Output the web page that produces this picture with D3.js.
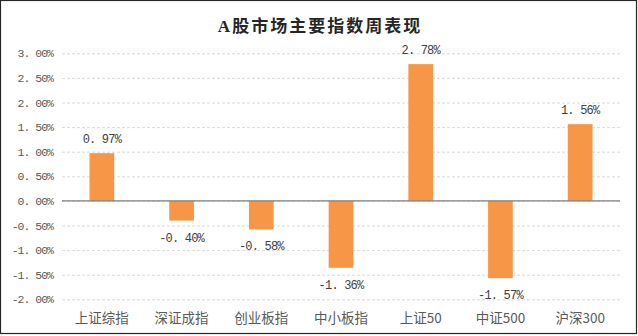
<!DOCTYPE html>
<html><head><meta charset="utf-8">
<script src="https://cdn.jsdelivr.net/npm/d3@7"></script>
<style>body{margin:0;background:#fff}svg{display:block}</style>
</head><body>
<script>
const title = "A股市场主要指数周表现";
const categories = ["上证综指","深证成指","创业板指","中小板指","上证50","中证500","沪深300"];
const values = [0.97, -0.40, -0.58, -1.36, 2.78, -1.57, 1.56];
const yTicks = [3.0, 2.5, 2.0, 1.5, 1.0, 0.5, 0.0, -0.5, -1.0, -1.5, -2.0];

(function(){
const W = 638, H = 336;
const svg = d3.select("body").append("svg").attr("width", W).attr("height", H);
svg.append("rect").attr("x",0.5).attr("y",0.5).attr("width",636).attr("height",333)
  .attr("fill","#fff").attr("stroke","#262626").attr("stroke-width",1.2);

const pLeft = 62, pRight = 620, pTop = 53.3, pBottom = 299.3;
const x = d3.scaleBand().domain(categories).range([pLeft, pRight]).paddingInner(0.69).paddingOuter(0.345);
const y = d3.scaleLinear().domain([-2, 3]).range([pBottom, pTop]);

const numFont = "'Liberation Mono','DejaVu Sans Mono',monospace";
const cjkFont = "'Noto Sans CJK SC','Noto Sans',sans-serif";

svg.append("text").attr("x", 320).attr("y", 32).attr("text-anchor","middle")
  .attr("font-family","'Liberation Serif','Noto Sans CJK SC',serif").attr("font-weight","bold")
  .attr("font-size",17).attr("letter-spacing","2").attr("fill","#262626").text(title);

const yAxis = d3.axisLeft(y).tickValues(yTicks).tickSize(-(pRight-pLeft)).tickPadding(10)
  .tickFormat(d => d3.format(".2f")(d).replace("−", "-").replace(".", ". ") + "%");
const ga = svg.append("g").attr("transform", `translate(${pLeft},0)`).call(yAxis);
ga.select(".domain").remove();
ga.selectAll(".tick line").attr("stroke","#d0d0d0").attr("stroke-dasharray","3,2").attr("stroke-width",0.8);
ga.selectAll(".tick text").attr("font-family", numFont).attr("font-size",11.5).attr("fill","#595959")
  .attr("letter-spacing","-1").attr("x",-9);

svg.append("g").selectAll("rect").data(values).join("rect")
  .attr("x",(d,i)=>x(categories[i])).attr("width",x.bandwidth())
  .attr("y",d=>y(Math.max(0,d))).attr("height",d=>Math.abs(y(d)-y(0)))
  .attr("fill","#F79646");

svg.append("line").attr("x1",pLeft).attr("x2",pRight).attr("y1",y(0)).attr("y2",y(0))
  .attr("stroke","#7f7f7f").attr("stroke-width",1.2);

svg.append("g").selectAll("text").data(values).join("text")
  .attr("x",(d,i)=>x(categories[i])+x.bandwidth()/2)
  .attr("y",d=> d>=0 ? y(d)-10 : y(d)+21)
  .attr("text-anchor","middle").attr("font-family",numFont).attr("font-size",12)
  .attr("letter-spacing","-0.8").attr("fill","#404040")
  .text(d=> d3.format(".2f")(d).replace("−", "-").replace(".", ". ") + "%");

svg.append("g").selectAll("text").data(categories).join("text")
  .attr("x",d=>x(d)+x.bandwidth()/2).attr("y",323)
  .attr("text-anchor","middle").attr("font-family",cjkFont).attr("font-size",13.5)
  .attr("fill","#595959").text(d=>d);
})();
</script>
</body></html>
